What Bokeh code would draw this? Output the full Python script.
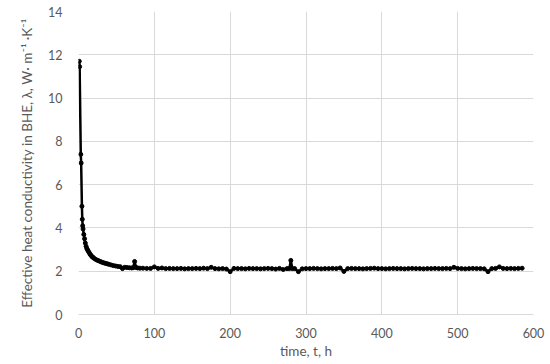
from bokeh.plotting import figure
from bokeh.models import FixedTicker, ColumnDataSource, Range1d
from bokeh.embed import file_html
from bokeh.resources import INLINE

# time, t, h
t_decay = [1, 1.5, 3, 3.5, 4.5, 5, 5.5, 6, 7, 8, 9, 10, 11, 12, 13, 14, 15, 16, 17, 18,
           19, 20, 22, 24, 26, 28, 30, 32, 34, 36, 38, 40, 43, 46, 49, 52, 55, 58, 61, 64,
           67, 70, 72, 74, 76, 78, 81]
lam_decay = [11.7, 11.45, 7.4, 7.0, 5.0, 4.4, 4.1, 3.95, 3.7, 3.5, 3.3, 3.15, 3.05, 2.98, 2.92, 2.86, 2.8, 2.75, 2.71, 2.67,
             2.64, 2.61, 2.56, 2.52, 2.49, 2.46, 2.43, 2.4, 2.38, 2.36, 2.34, 2.32, 2.29, 2.26, 2.24, 2.22, 2.21, 2.12, 2.18, 2.17,
             2.16, 2.15, 2.16, 2.45, 2.17, 2.15, 2.14]

t_flat = [85, 90, 95, 100, 105, 110, 115, 120, 125, 130, 135, 140, 145, 150, 155, 160, 165, 170, 175, 180,
          185, 190, 195, 200, 205, 210, 215, 220, 225, 230, 235, 240, 245, 250, 255, 260, 265, 270, 275, 278,
          280, 282, 285, 290, 295, 300, 305, 310, 315, 320, 325, 330, 335, 340, 345, 350, 355, 360, 365, 370,
          375, 380, 385, 390, 395, 400, 405, 410, 415, 420, 425, 430, 435, 440, 445, 450, 455, 460, 465, 470,
          475, 480, 485, 490, 495, 500, 505, 510, 515, 520, 525, 530, 535, 540, 545, 550, 555, 560, 565, 570,
          575, 580, 585]
lam_flat = [2.14, 2.13, 2.13, 2.2, 2.13, 2.15, 2.12, 2.13, 2.12, 2.12, 2.13, 2.11, 2.12, 2.12, 2.13, 2.12, 2.14, 2.12, 2.18, 2.12,
            2.11, 2.12, 2.1, 1.98, 2.13, 2.12, 2.12, 2.11, 2.13, 2.12, 2.12, 2.11, 2.12, 2.13, 2.12, 2.1, 2.13, 2.08, 2.12, 2.12,
            2.5, 2.12, 2.12, 1.98, 2.11, 2.12, 2.12, 2.13, 2.12, 2.11, 2.12, 2.12, 2.13, 2.12, 2.15, 1.99, 2.12, 2.13, 2.12, 2.12,
            2.11, 2.12, 2.13, 2.14, 2.12, 2.12, 2.11, 2.12, 2.13, 2.12, 2.12, 2.11, 2.12, 2.13, 2.12, 2.12, 2.11, 2.12, 2.12, 2.13,
            2.12, 2.12, 2.13, 2.12, 2.18, 2.13, 2.12, 2.11, 2.12, 2.13, 2.12, 2.12, 2.11, 1.98, 2.12, 2.13, 2.2, 2.13, 2.12, 2.13,
            2.12, 2.13, 2.14]

x_ticks = [0, 100, 200, 300, 400, 500, 600]
y_ticks = [0, 2, 4, 6, 8, 10, 12, 14]

t_all = t_decay + t_flat
lam_all = lam_decay + lam_flat
src = ColumnDataSource(data=dict(t=t_all, lam=lam_all))

FONT = "Lato"
GRAY = "#595959"
GRID = "#d9d9d9"

p = figure(width=550, height=364, output_backend="svg", toolbar_location=None,
           x_range=Range1d(0, 600), y_range=Range1d(0, 14),
           min_border_left=78, min_border_right=17, min_border_top=11, min_border_bottom=50)

p.line("t", "lam", source=src, line_color="black", line_width=2.5)
p.scatter("t", "lam", source=src, size=4, fill_color="black", line_color="black")

p.xaxis.ticker = FixedTicker(ticks=x_ticks)
p.yaxis.ticker = FixedTicker(ticks=y_ticks)
p.xaxis.axis_label = "time, t, h"
p.yaxis.axis_label = "Effective heat conductivity in BHE, λ, W· m⁻¹ ·K⁻¹"

for ax in (p.xaxis, p.yaxis):
    ax.major_tick_line_color = None
    ax.minor_tick_line_color = None
    ax.major_label_text_font = FONT
    ax.major_label_text_font_size = "12.5px"
    ax.major_label_text_color = GRAY
    ax.axis_label_text_font = FONT
    ax.axis_label_text_font_size = "13.5px"
    ax.axis_label_text_color = GRAY
    ax.axis_label_text_font_style = "normal"
p.yaxis.axis_line_color = None
p.xaxis.axis_line_color = GRID
p.yaxis.major_label_standoff = 10
p.yaxis.axis_label_standoff = 10
p.xaxis.major_label_standoff = 7
p.xaxis.axis_label_standoff = 2

p.xgrid.grid_line_color = GRID
p.ygrid.grid_line_color = GRID
p.outline_line_color = None
p.background_fill_color = "white"
p.border_fill_color = "white"

open("out.html", "w").write(file_html(p, INLINE))
